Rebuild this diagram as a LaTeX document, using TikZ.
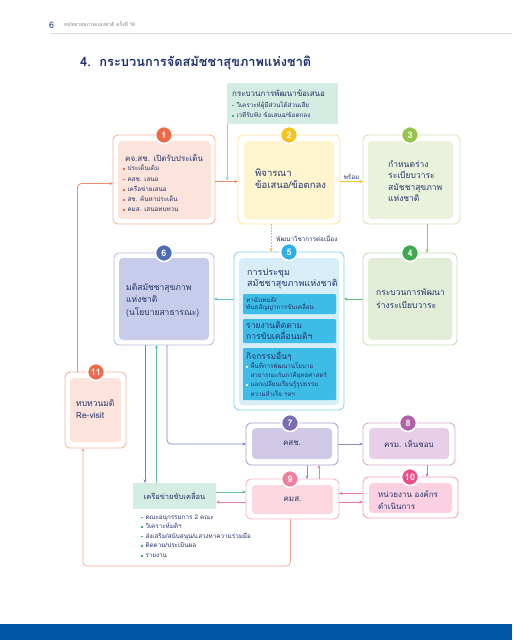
\documentclass[tikz,border=0pt]{standalone}
\usepackage{fontspec}
\setmainfont[Script=Thai]{Loma}
\usetikzlibrary{arrows.meta,calc}
\definecolor{navy}{HTML}{233468}
\definecolor{ttl}{HTML}{1D2F6F}
\definecolor{hdrblue}{HTML}{2C4E9E}
\definecolor{mint}{HTML}{D3EDE2}
\definecolor{mintdot}{HTML}{3FAE7E}
\definecolor{orB}{HTML}{EE6B4A}\definecolor{orF}{HTML}{F5B49E}\definecolor{orI}{HTML}{FCE3DB}
\definecolor{yeB}{HTML}{F8C21E}\definecolor{yeF}{HTML}{FBE39C}\definecolor{yeI}{HTML}{FEF4CD}
\definecolor{lgB}{HTML}{95C64A}\definecolor{lgF}{HTML}{D3E5B8}\definecolor{lgI}{HTML}{EAF2DC}
\definecolor{dgB}{HTML}{3DAA4E}\definecolor{dgF}{HTML}{C3DDB5}\definecolor{dgI}{HTML}{E2EDD8}
\definecolor{cyB}{HTML}{2DB1E5}\definecolor{cyF}{HTML}{84D2F0}\definecolor{cyI}{HTML}{D7EEF9}\definecolor{cyS}{HTML}{3EBCE8}
\definecolor{blB}{HTML}{4C6DB5}\definecolor{blF}{HTML}{B8C0DF}\definecolor{blI}{HTML}{C6CCE9}
\definecolor{puB}{HTML}{7A6BB4}\definecolor{puF}{HTML}{ABA4D2}\definecolor{puI}{HTML}{CFC9E7}
\definecolor{mgB}{HTML}{B061A7}\definecolor{mgF}{HTML}{D8AAD2}\definecolor{mgI}{HTML}{E8CEE6}
\definecolor{pkB}{HTML}{F0819E}\definecolor{pkF}{HTML}{F6B5C4}\definecolor{pkI}{HTML}{FBD8DF}
\definecolor{maB}{HTML}{E94F8B}\definecolor{maF}{HTML}{F2A0BF}\definecolor{maI}{HTML}{FBD0E0}
\definecolor{barblue}{HTML}{0356A7}
\definecolor{lnblue}{HTML}{8FD0E6}
\definecolor{lnsalmon}{HTML}{F2A58C}
\newcommand{\mybul}[1]{\textcolor{#1}{\rule[0.25ex]{1.7pt}{1.7pt}}\hspace{2.6pt}}
\newcommand{\myind}{\hspace*{4.3pt}}
\newcommand{\fs}[2]{\fontsize{#1}{#2}\selectfont}
\begin{document}
\begin{tikzpicture}[x=1pt,y=-1pt,
  frame/.style={draw=#1, line width=0.9pt, rounded corners=5pt, inner sep=0pt, outer sep=0pt},
  inbox/.style={fill=#1, rounded corners=4pt, inner sep=0pt, outer sep=0pt},
  badge/.style={circle, fill=#1, draw=white, line width=1.6pt, minimum size=17pt, inner sep=0pt, text=white, font=\bfseries\fs{9}{9}},
  arr/.style={-{Stealth[length=3.6pt,width=3.2pt]}, line width=0.7pt, rounded corners=4pt},
  txt/.style={text=navy, align=left, inner sep=0pt, font=\fs{8.5}{11}},
  small/.style={text=navy, align=left, inner sep=0pt, font=\fs{6.3}{9.6}}
]
\useasboundingbox (0,0) rectangle (512,640);
\fill[white] (0,0) rectangle (512,640);
% header
\node[anchor=west, inner sep=0pt, text=hdrblue, font=\fs{9}{9}] (pg) at (49,25) {6};
\node[anchor=west, inner sep=0pt, text=gray, font=\fs{5}{5}] (hd) at (64,25) {สมัชชาสุขภาพแห่งชาติ ครั้งที่ 16};
\draw[gray!30, line width=0.6pt] (50,33) -- (512,33);
\node[anchor=west, inner sep=0pt, text=ttl, font=\bfseries\fs{12.8}{13}] (title) at (80,63) {4.\ \ กระบวนการจัดสมัชชาสุขภาพแห่งชาติ};
\fill[barblue] (0,624) rectangle (512,640);

% top mint box
\node[fill=mint, minimum width=111pt, minimum height=41pt, inner sep=0pt, outer sep=0pt] (dev) at (282.5,103.5) {};
\node[txt, anchor=west, font=\fs{8}{8}] (devt) at (232,93) {กระบวนการพัฒนาข้อเสนอ};
\node[small, anchor=west, font=\fs{6.3}{10.5}] (devb) at (232,109.5) {\mybul{mintdot}วิเคราะห์ผู้มีส่วนได้ส่วนเสีย\\\mybul{mintdot}เวทีรับฟัง ข้อเสนอ/ข้อตกลง};

% frames
\node[frame=orF, minimum width=102pt, minimum height=89pt] (o1) at (164,179.5) {};
\node[inbox=orI, minimum width=93pt, minimum height=78pt] (i1) at (164.5,180) {};
\node[frame=yeF, minimum width=102pt, minimum height=89pt] (o2) at (289,179.5) {};
\node[inbox=yeI, minimum width=90pt, minimum height=78pt] (i2) at (289,180) {};
\node[frame=lgF, minimum width=97pt, minimum height=89pt] (o3) at (411.5,179.5) {};
\node[inbox=lgI, minimum width=85pt, minimum height=78pt] (i3) at (410.5,180) {};
\node[frame=dgF, minimum width=94pt, minimum height=92pt] (o4) at (410,299) {};
\node[inbox=dgI, minimum width=84pt, minimum height=82pt] (i4) at (410,299) {};
\node[frame=cyF, minimum width=110pt, minimum height=158pt] (o5) at (289,331) {};
\node[inbox=cyI, minimum width=100pt, minimum height=147pt] (i5) at (289,331.5) {};
\node[inbox=cyS, rounded corners=1pt, minimum width=93pt, minimum height=20pt] (s1) at (289.5,304) {};
\node[inbox=cyS, rounded corners=1pt, minimum width=93pt, minimum height=24pt] (s2) at (289.5,331) {};
\node[inbox=cyS, rounded corners=1pt, minimum width=93pt, minimum height=52pt] (s3) at (289.5,374) {};
\node[frame=blF, minimum width=100pt, minimum height=92pt] (o6) at (164,299) {};
\node[inbox=blI, minimum width=90pt, minimum height=82pt] (i6) at (164,299) {};
\node[frame=puF, minimum width=92pt, minimum height=42pt] (o7) at (292,444) {};
\node[inbox=puI, minimum width=80pt, minimum height=31pt] (i7) at (292,443.5) {};
\node[frame=mgF, minimum width=92pt, minimum height=42pt] (o8) at (409,444) {};
\node[inbox=mgI, minimum width=80pt, minimum height=31pt] (i8) at (409,443.5) {};
\node[frame=pkF, minimum width=93pt, minimum height=40pt] (o9) at (292.5,499) {};
\node[inbox=pkI, minimum width=81pt, minimum height=29pt] (i9) at (292.5,499.5) {};
\node[frame=maF, minimum width=95pt, minimum height=41pt] (o10) at (410.5,497.5) {};
\node[inbox=maI, minimum width=83pt, minimum height=30pt] (i10) at (410.5,498) {};
\node[frame=orF, minimum width=61pt, minimum height=76pt] (o11) at (95.5,410) {};
\node[inbox=orI, minimum width=51pt, minimum height=64pt] (i11) at (95.5,410) {};
\node[fill=mint, minimum width=83pt, minimum height=26pt, inner sep=0pt, outer sep=0pt] (net) at (174.5,496) {};

% connectors
\draw[arr, orB!80] ([xshift=-18pt]o11.north) |- ([yshift=-4pt]o1.west);
\draw[arr, orB!80] ([yshift=-2pt]o1.east) -- ([yshift=-2pt]o2.west);
\draw[arr, lnblue] (dev.south west) -- ([yshift=-1pt]dev.south west |- o1.east);
\draw[arr, yeB] ([yshift=-2pt]o2.east) -- node[above=2pt, inner sep=0pt, text=navy, font=\fs{6.3}{6.3}] (rdy) {พร้อม} ([yshift=-2pt]o3.west);
\draw[arr, lgB] ([xshift=15.5pt]o3.south) -- ([xshift=17pt]o4.north);
\draw[arr, yeB, dash pattern=on 1.5pt off 1.5pt] ([xshift=-18pt]o2.south) -- node[right=5pt, inner sep=0pt, text=navy, font=\fs{6.3}{6.3}] (acad) {พัฒนาวิชาการต่อเนื่อง} ([xshift=-18pt]o5.north);
\draw[arr, dgB!80] (o4.west) -- (o4.west -| o5.east);
\draw[arr, cyB!80] (o5.west |- o6.east) -- (o6.east);
\draw[arr, blB!80] ([xshift=-19pt]o6.south) -- ([xshift=-29.5pt]net.north);
\draw[arr, mintdot!80] ([xshift=-18pt]net.north) -- ([xshift=-7.5pt]o6.south);
\draw[arr, blB!80] ([xshift=3pt]o6.south) |- (o7.west);
\draw[arr, puB!80] (o7.east) -- (o8.west);
\draw[arr, mgB!80] ([xshift=18pt]o8.south) -- ([xshift=16.5pt]o10.north);
\draw[arr, puB!80] ([xshift=15pt]o7.south) -- ([xshift=14.5pt]o9.north);
\draw[arr, pkB] ([xshift=26.5pt]o9.north) -- ([xshift=27pt]o7.south);
\draw[arr, maB!80] ([yshift=4pt]o10.west) -- ([yshift=4pt]o10.west -| o9.east);
\draw[arr, maB!80] ([yshift=-3pt]o9.east) -- ([yshift=-3pt]o9.east -| o10.west);
\draw[arr, mintdot!80] ([yshift=4pt]net.east) -- ([yshift=4pt]net.east -| o9.west);
\draw[arr, pkB] ([yshift=-3pt]o9.west) -- ([yshift=-3pt]o9.west -| net.east);
\coordinate (loopy) at (0,566);
\draw[arr, lnsalmon] ([xshift=-2pt]o9.south) |- ([xshift=-12.5pt]o11.south |- loopy) -- ([xshift=-12.5pt]o11.south);

% badges
\node[badge=orB] (b1) at (164,135) {1};
\node[badge=yeB] (b2) at (289,135) {2};
\node[badge=lgB] (b3) at (410,135) {3};
\node[badge=dgB] (b4) at (410,253) {4};
\node[badge=cyB] (b5) at (289,252) {5};
\node[badge=blB] (b6) at (164,253) {6};
\node[badge=puB] (b7) at (290,423) {7};
\node[badge=mgB] (b8) at (408,423) {8};
\node[badge=pkB] (b9) at (290,479) {9};
\node[badge=maB] (b10) at (410,477) {10};
\node[badge=orB] (b11) at (96,372) {11};

% texts
\node[txt, anchor=west, font=\fs{8}{8}] (t1) at (125,158) {คจ.สช. เปิดรับประเด็น};
\node[small, anchor=west, font=\fs{6.3}{10.3}] (t1b) at (123,188.5) {\mybul{orB}ประเด็นเดิม\\\mybul{orB}คสช. เสนอ\\\mybul{orB}เครือข่ายเสนอ\\\mybul{orB}สช. ค้นหาประเด็น\\\mybul{orB}คมส. เสนอทบทวน};
\node[txt, anchor=west, font=\fs{9.5}{12}] (t2) at (255,179) {พิจารณา\\ข้อเสนอ/ข้อตกลง};
\node[txt, anchor=west, font=\fs{8.5}{11.5}] (t3) at (388,181) {กำหนดร่าง\\ระเบียบวาระ\\สมัชชาสุขภาพ\\แห่งชาติ};
\node[txt, anchor=west, font=\fs{8.5}{12.5}] (t4) at (376,298.5) {กระบวนการพัฒนา\\ร่างระเบียบวาระ};
\node[txt, anchor=west, font=\fs{9}{11.5}] (t5) at (247,279) {การประชุม\\สมัชชาสุขภาพแห่งชาติ};
\node[txt, anchor=west, font=\fs{6.3}{7.5}] (t5a) at (246,304) {หาฉันทมติ/\\พันธสัญญาการขับเคลื่อน};
\node[txt, anchor=west, font=\fs{8.5}{11}] (t5b) at (246,331) {รายงานติดตาม\\การขับเคลื่อนมติฯ};
\node[txt, anchor=west, font=\fs{8.5}{8.5}] (t5c) at (246,356) {กิจกรรมอื่นๆ};
\node[txt, anchor=west, font=\fs{6.2}{9.2}] (t5d) at (246,379) {\mybul{white}พื้นที่การพัฒนานโยบาย\\\myind สาธารณะกับภาคียุทธศาสตร์\\\mybul{white}แลกเปลี่ยนเรียนรู้รูปธรรม\\\myind ความสำเร็จ ฯลฯ};
\node[txt, anchor=west, font=\fs{8.5}{12.5}] (t6) at (126,300) {มติสมัชชาสุขภาพ\\แห่งชาติ\\(นโยบายสาธารณะ)};
\node[txt, font=\fs{8}{8}] (t7) at (i7) {คสช.};
\node[txt, font=\fs{8}{8}] (t8) at (i8) {ครม. เห็นชอบ};
\node[txt, font=\fs{8}{8}] (t9) at (i9) {คมส.};
\node[txt, anchor=west, font=\fs{8}{12}] (t10) at (378,500) {หน่วยงาน องค์กร\\ดำเนินการ};
\node[txt, anchor=west, font=\fs{8.5}{11.5}] (t11) at (76,409) {ทบทวนมติ\\Re-visit};
\node[txt, font=\fs{7.5}{7.5}] (tn) at (net) {เครือข่ายขับเคลื่อน};
\node[small, anchor=west, font=\fs{6.3}{9.6}] (tnb) at (141,536) {\mybul{mintdot}คณะอนุกรรมการ 2 คณะ\\\mybul{mintdot}วิเคราะห์มติฯ\\\mybul{mintdot}ส่งเสริม/สนับสนุน/แสวงหาความร่วมมือ\\\mybul{mintdot}ติดตาม/ประเมินผล\\\mybul{mintdot}รายงาน};
\end{tikzpicture}
\end{document}
